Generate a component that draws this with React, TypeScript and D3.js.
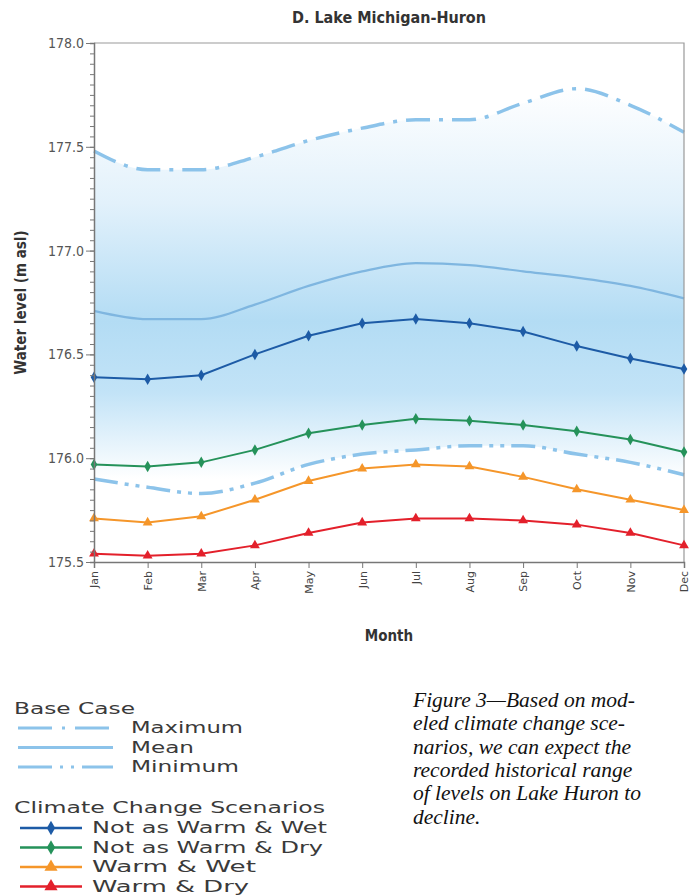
import React, { useEffect, useRef } from "react";
import * as d3 from "d3";

const months = ["Jan", "Feb", "Mar", "Apr", "May", "Jun", "Jul", "Aug", "Sep", "Oct", "Nov", "Dec"];

const baseMax = [177.48, 177.39, 177.39, 177.45, 177.53, 177.59, 177.63, 177.63, 177.71, 177.78, 177.70, 177.57];
const baseMean = [176.71, 176.67, 176.67, 176.74, 176.83, 176.90, 176.94, 176.93, 176.90, 176.87, 176.83, 176.77];
const baseMin = [175.90, 175.86, 175.83, 175.88, 175.97, 176.02, 176.04, 176.06, 176.06, 176.02, 175.98, 175.92];

const notWarmWet = [176.39, 176.38, 176.40, 176.50, 176.59, 176.65, 176.67, 176.65, 176.61, 176.54, 176.48, 176.43];
const notWarmDry = [175.97, 175.96, 175.98, 176.04, 176.12, 176.16, 176.19, 176.18, 176.16, 176.13, 176.09, 176.03];
const warmWet = [175.71, 175.69, 175.72, 175.80, 175.89, 175.95, 175.97, 175.96, 175.91, 175.85, 175.80, 175.75];
const warmDry = [175.54, 175.53, 175.54, 175.58, 175.64, 175.69, 175.71, 175.71, 175.70, 175.68, 175.64, 175.58];

const yTicks = [175.5, 176.0, 176.5, 177.0, 177.5, 178.0];

const scenarios = [
  { name: "Not as Warm & Wet", values: notWarmWet, color: "#1d5ba6", marker: "diamond" },
  { name: "Not as Warm & Dry", values: notWarmDry, color: "#25925a", marker: "diamond" },
  { name: "Warm & Wet", values: warmWet, color: "#f5962a", marker: "triangle" },
  { name: "Warm & Dry", values: warmDry, color: "#e3202b", marker: "triangle" },
];

const captionLines = [
  "Figure 3\u2014Based on mod-",
  "eled climate change sce-",
  "narios, we can expect the",
  "recorded historical range",
  "of levels on Lake Huron to",
  "decline.",
];

const baseColor = "#8cc3ea";
const maxDash = "24 9 4 9";
const minDash = "24 7 4 7 4 7";

const App = () => {
  const svgRef = useRef<SVGSVGElement | null>(null);

  useEffect(() => {
    document.body.style.margin = "0";
    const width = 699;
    const height = 895;
    const margin = { top: 43, right: 15, bottom: 333, left: 94 };

    const svg = d3.select(svgRef.current).attr("width", width).attr("height", height);
    svg.selectAll("*").remove();

    const x = d3.scalePoint().domain(months).range([margin.left, width - margin.right]);
    const y = d3.scaleLinear().domain([175.5, 178.0]).range([height - margin.bottom, margin.top]);

    const narrow = "'Liberation Sans Narrow', 'DejaVu Sans Condensed', 'Liberation Sans', sans-serif";

    // gradient band between max and min
    const defs = svg.append("defs");
    const grad = defs
      .append("linearGradient")
      .attr("id", "band")
      .attr("gradientUnits", "userSpaceOnUse")
      .attr("x1", 0)
      .attr("x2", 0)
      .attr("y1", y(177.8))
      .attr("y2", y(175.9));
    grad.append("stop").attr("offset", 0).attr("stop-color", "#ffffff");
    grad.append("stop").attr("offset", 0.3).attr("stop-color", "#e2f1fb");
    grad.append("stop").attr("offset", 0.6).attr("stop-color", "#b3dcf4");
    grad.append("stop").attr("offset", 0.78).attr("stop-color", "#c2e3f7");
    grad.append("stop").attr("offset", 1).attr("stop-color", "#ffffff");

    const smooth = d3.curveMonotoneX;

    const area = d3
      .area<number>()
      .x((d, i) => x(months[i])!)
      .y0((d, i) => y(baseMin[i]))
      .y1((d) => y(d))
      .curve(smooth);

    svg.append("path").datum(baseMax).attr("d", area).attr("fill", "url(#band)");

    const smoothLine = d3
      .line<number>()
      .x((d, i) => x(months[i])!)
      .y((d) => y(d))
      .curve(smooth);

    svg
      .append("path")
      .datum(baseMax)
      .attr("d", smoothLine)
      .attr("fill", "none")
      .attr("stroke", baseColor)
      .attr("stroke-width", 3.5)
      .attr("stroke-dasharray", maxDash);
    svg
      .append("path")
      .datum(baseMean)
      .attr("d", smoothLine)
      .attr("fill", "none")
      .attr("stroke", "#7fb6e0")
      .attr("stroke-width", 2.2);
    svg
      .append("path")
      .datum(baseMin)
      .attr("d", smoothLine)
      .attr("fill", "none")
      .attr("stroke", baseColor)
      .attr("stroke-width", 3.5)
      .attr("stroke-dasharray", minDash);

    // frame
    const x0 = margin.left;
    const x1 = width - margin.right;
    const y0 = height - margin.bottom;
    const y1 = margin.top;
    svg
      .append("path")
      .attr("d", `M${x0},${y1}H${x1}V${y0}`)
      .attr("fill", "none")
      .attr("stroke", "#999")
      .attr("stroke-width", 1.2);

    // scenario lines
    const straight = d3
      .line<number>()
      .x((d, i) => x(months[i])!)
      .y((d) => y(d));

    const diamond = d3.symbol().type(d3.symbolDiamond).size(38);
    const triangle = d3.symbol().type(d3.symbolTriangle).size(42);

    scenarios.forEach((s) => {
      svg
        .append("path")
        .datum(s.values)
        .attr("d", straight)
        .attr("fill", "none")
        .attr("stroke", s.color)
        .attr("stroke-width", 2);
      svg
        .append("g")
        .selectAll("path")
        .data(s.values)
        .enter()
        .append("path")
        .attr("transform", (d, i) => `translate(${x(months[i])},${y(d)})`)
        .attr("d", s.marker === "diamond" ? diamond() : triangle())
        .attr("fill", s.color);
    });

    // y axis
    const yAxis = svg
      .append("g")
      .attr("transform", `translate(${x0},0)`)
      .call(
        d3
          .axisLeft(y)
          .tickValues(d3.range(0, 51).map((i) => 175.5 + i * 0.05))
          .tickSize(4)
          .tickFormat(() => "")
      );
    yAxis.select(".domain").attr("stroke", "#777").attr("stroke-width", 1.5);
    yAxis.selectAll(".tick line").attr("stroke", "#777");

    const yLabels = svg
      .append("g")
      .attr("transform", `translate(${x0},0)`)
      .call(d3.axisLeft(y).tickValues(yTicks).tickSize(8).tickPadding(2).tickFormat(d3.format(".1f")));
    yLabels.select(".domain").remove();
    yLabels.selectAll(".tick line").attr("stroke", "#777");
    yLabels
      .selectAll(".tick text")
      .attr("font-family", narrow)
      .attr("font-size", 14)
      .attr("fill", "#555");

    // x axis
    const xAxis = svg
      .append("g")
      .attr("transform", `translate(0,${y0})`)
      .call(d3.axisBottom(x).tickSize(6).tickPadding(4));
    xAxis.select(".domain").attr("stroke", "#777").attr("stroke-width", 1.5);
    xAxis.selectAll(".tick line").attr("stroke", "#777");
    xAxis
      .selectAll(".tick text")
      .attr("transform", "rotate(-90)")
      .attr("text-anchor", "end")
      .attr("dy", "0.35em")
      .attr("x", -9)
      .attr("y", 0)
      .attr("font-family", "'DejaVu Sans', sans-serif")
      .attr("font-size", 11)
      .attr("fill", "#444");

    // titles
    svg
      .append("text")
      .attr("x", 389)
      .attr("y", 23)
      .attr("text-anchor", "middle")
      .attr("font-family", narrow)
      .attr("font-weight", "bold")
      .attr("font-size", 16)
      .attr("fill", "#333")
      .text("D. Lake Michigan-Huron");

    svg
      .append("text")
      .attr("x", 389)
      .attr("y", 641)
      .attr("text-anchor", "middle")
      .attr("font-family", narrow)
      .attr("font-weight", "bold")
      .attr("font-size", 15)
      .attr("fill", "#333")
      .text("Month");

    svg
      .append("text")
      .attr("transform", `translate(26,${(y0 + y1) / 2}) rotate(-90)`)
      .attr("text-anchor", "middle")
      .attr("font-family", narrow)
      .attr("font-weight", "bold")
      .attr("font-size", 15)
      .attr("fill", "#333")
      .text("Water level (m asl)");

    // legend
    const leg = svg.append("g").attr("font-family", "'DejaVu Sans', sans-serif").attr("fill", "#3a3a3a");
    const wideText = (tx: number, ty: number, t: string, len: number) =>
      leg
        .append("text")
        .attr("x", tx)
        .attr("y", ty)
        .attr("font-size", 15)
        .attr("textLength", len)
        .attr("lengthAdjust", "spacingAndGlyphs")
        .text(t);

    wideText(14, 714, "Base Case", 121);
    const baseItems = [
      { name: "Maximum", dash: maxDash, w: 3, len: 112 },
      { name: "Mean", dash: null, w: 3, len: 63 },
      { name: "Minimum", dash: minDash, w: 3, len: 108 },
    ];
    baseItems.forEach((b, i) => {
      const ly = 728 + i * 19.5;
      leg
        .append("line")
        .attr("x1", 18)
        .attr("x2", 113)
        .attr("y1", ly)
        .attr("y2", ly)
        .attr("stroke", baseColor)
        .attr("stroke-width", b.w)
        .attr("stroke-dasharray", b.dash === null ? null : i === 0 ? "34 10 3 10" : "34 8 3 8 3 8");
      wideText(131, ly + 5, b.name, b.len);
    });

    wideText(14, 813, "Climate Change Scenarios", 311);
    const lens = [235, 231, 164, 157];
    scenarios.forEach((s, i) => {
      const ly = 828 + i * 19.5;
      leg
        .append("line")
        .attr("x1", 20)
        .attr("x2", 82)
        .attr("y1", ly)
        .attr("y2", ly)
        .attr("stroke", s.color)
        .attr("stroke-width", 2.5);
      leg
        .append("path")
        .attr("transform", `translate(51,${ly})`)
        .attr(
          "d",
          s.marker === "diamond"
            ? d3.symbol().type(d3.symbolDiamond).size(60)()
            : d3.symbol().type(d3.symbolTriangle).size(75)()
        )
        .attr("fill", s.color);
      wideText(92, ly + 5, s.name, lens[i]);
    });

    // caption
    const cap = svg
      .append("text")
      .attr("font-family", "'Liberation Serif', 'Times New Roman', serif")
      .attr("font-style", "italic")
      .attr("font-size", 21.5)
      .attr("fill", "#111");
    captionLines.forEach((t, i) => {
      cap
        .append("tspan")
        .attr("x", 413)
        .attr("y", 707 + i * 23.3)
        .text(t);
    });
  }, []);

  return <svg ref={svgRef}></svg>;
};

export default App;
